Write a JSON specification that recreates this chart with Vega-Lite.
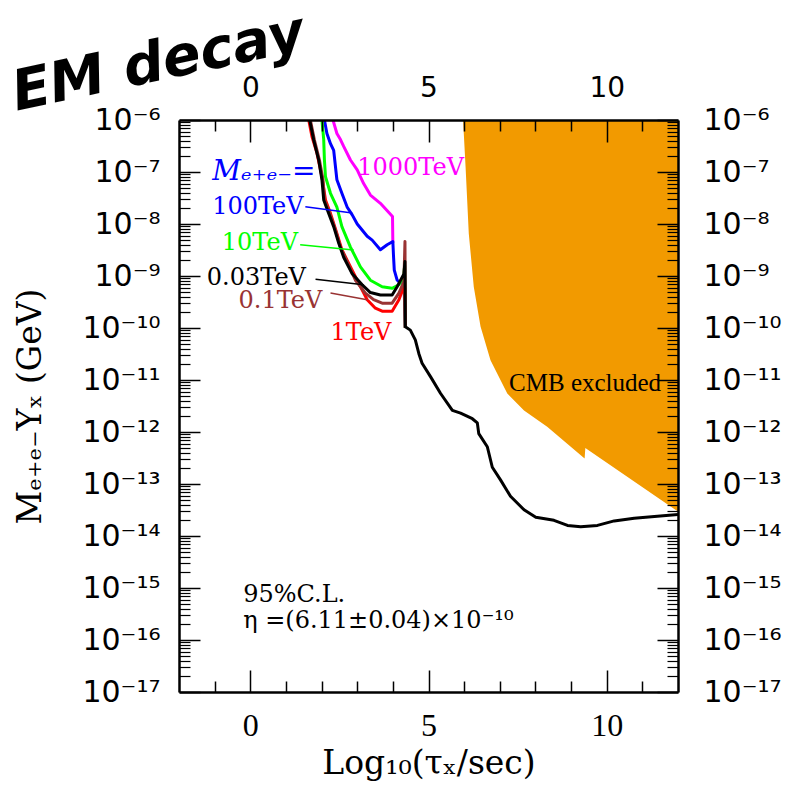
{
  "$schema": "https://vega.github.io/schema/vega-lite/v6.json",
  "autosize": {"type": "none"},
  "width": 499,
  "height": 572,
  "padding": {"left": 179, "top": 120, "right": 108, "bottom": 104},
  "background": "white",
  "title": {"text": "EM decay", "font": "DejaVu Sans", "fontSize": 56, "fontStyle": "italic", "fontWeight": "bold", "angle": -12, "anchor": "start", "frame": "group", "dx": -193, "dy": 82, "offset": 10, "color": "black"},
  "config": {"view": {"stroke": null}},
  "datasets": {
    "curves": [
      {"s": "1000TeV", "x": 2.32, "y": 1e-6}, {"s": "1000TeV", "x": 2.43, "y": 5.5e-7}, {"s": "1000TeV", "x": 2.53, "y": 4.2e-7}, {"s": "1000TeV", "x": 2.62, "y": 3.1e-7}, {"s": "1000TeV", "x": 2.81, "y": 1.7e-7}, {"s": "1000TeV", "x": 3.0, "y": 1.1e-7}, {"s": "1000TeV", "x": 3.18, "y": 6.0e-8}, {"s": "1000TeV", "x": 3.37, "y": 3.6e-8}, {"s": "1000TeV", "x": 3.65, "y": 2.5e-8}, {"s": "1000TeV", "x": 3.99, "y": 1.4e-8}, {"s": "1000TeV", "x": 4.0, "y": 4.3e-9},
      {"s": "100TeV", "x": 2.08, "y": 1e-6}, {"s": "100TeV", "x": 2.15, "y": 5.5e-7}, {"s": "100TeV", "x": 2.25, "y": 3.5e-7}, {"s": "100TeV", "x": 2.34, "y": 2.6e-7}, {"s": "100TeV", "x": 2.39, "y": 1.26e-7}, {"s": "100TeV", "x": 2.43, "y": 7.1e-8}, {"s": "100TeV", "x": 2.57, "y": 3.9e-8}, {"s": "100TeV", "x": 2.72, "y": 2.1e-8}, {"s": "100TeV", "x": 2.86, "y": 1.5e-8}, {"s": "100TeV", "x": 3.0, "y": 1.0e-8}, {"s": "100TeV", "x": 3.28, "y": 5.8e-9}, {"s": "100TeV", "x": 3.42, "y": 4.9e-9}, {"s": "100TeV", "x": 3.65, "y": 3.2e-9}, {"s": "100TeV", "x": 3.84, "y": 4.0e-9}, {"s": "100TeV", "x": 4.0, "y": 4.6e-9}, {"s": "100TeV", "x": 4.02, "y": 2.3e-9}, {"s": "100TeV", "x": 4.04, "y": 1.3e-9}, {"s": "100TeV", "x": 4.12, "y": 8.3e-10}, {"s": "100TeV", "x": 4.21, "y": 7.4e-10}, {"s": "100TeV", "x": 4.31, "y": 8.3e-10}, {"s": "100TeV", "x": 4.35, "y": 1e-10},
      {"s": "10TeV", "x": 2.01, "y": 1e-6}, {"s": "10TeV", "x": 2.06, "y": 4.2e-7}, {"s": "10TeV", "x": 2.08, "y": 1.7e-7}, {"s": "10TeV", "x": 2.11, "y": 8.1e-8}, {"s": "10TeV", "x": 2.25, "y": 3.9e-8}, {"s": "10TeV", "x": 2.43, "y": 2.1e-8}, {"s": "10TeV", "x": 2.57, "y": 8.9e-9}, {"s": "10TeV", "x": 2.81, "y": 3.6e-9}, {"s": "10TeV", "x": 3.09, "y": 1.5e-9}, {"s": "10TeV", "x": 3.37, "y": 8.3e-10}, {"s": "10TeV", "x": 3.7, "y": 6.2e-10}, {"s": "10TeV", "x": 3.98, "y": 5.8e-10}, {"s": "10TeV", "x": 4.17, "y": 6.8e-10}, {"s": "10TeV", "x": 4.31, "y": 9.8e-10}, {"s": "10TeV", "x": 4.33, "y": 1.6e-9}, {"s": "10TeV", "x": 4.35, "y": 1e-10},
      {"s": "1TeV", "x": 1.64, "y": 1e-6}, {"s": "1TeV", "x": 1.73, "y": 4.8e-7}, {"s": "1TeV", "x": 1.87, "y": 2.3e-7}, {"s": "1TeV", "x": 2.01, "y": 8.1e-8}, {"s": "1TeV", "x": 2.11, "y": 2.9e-8}, {"s": "1TeV", "x": 2.25, "y": 1.6e-8}, {"s": "1TeV", "x": 2.43, "y": 6.6e-9}, {"s": "1TeV", "x": 2.57, "y": 3.2e-9}, {"s": "1TeV", "x": 2.72, "y": 2.0e-9}, {"s": "1TeV", "x": 3.0, "y": 8.3e-10}, {"s": "1TeV", "x": 3.28, "y": 3.5e-10}, {"s": "1TeV", "x": 3.51, "y": 2.4e-10}, {"s": "1TeV", "x": 3.7, "y": 2.1e-10}, {"s": "1TeV", "x": 3.98, "y": 2.1e-10}, {"s": "1TeV", "x": 4.17, "y": 3.5e-10}, {"s": "1TeV", "x": 4.31, "y": 6.2e-10}, {"s": "1TeV", "x": 4.33, "y": 8.3e-10}, {"s": "1TeV", "x": 4.35, "y": 1e-10},
      {"s": "0.1TeV", "x": 1.685, "y": 1e-6}, {"s": "0.1TeV", "x": 1.8, "y": 4.1e-7}, {"s": "0.1TeV", "x": 1.94, "y": 1.7e-7}, {"s": "0.1TeV", "x": 2.04, "y": 7.1e-8}, {"s": "0.1TeV", "x": 2.08, "y": 2.9e-8}, {"s": "0.1TeV", "x": 2.23, "y": 1.6e-8}, {"s": "0.1TeV", "x": 2.39, "y": 7.6e-9}, {"s": "0.1TeV", "x": 2.53, "y": 3.6e-9}, {"s": "0.1TeV", "x": 2.67, "y": 2.2e-9}, {"s": "0.1TeV", "x": 2.95, "y": 8.3e-10}, {"s": "0.1TeV", "x": 3.23, "y": 4.7e-10}, {"s": "0.1TeV", "x": 3.46, "y": 3.5e-10}, {"s": "0.1TeV", "x": 3.7, "y": 3.0e-10}, {"s": "0.1TeV", "x": 3.98, "y": 3.0e-10}, {"s": "0.1TeV", "x": 4.17, "y": 4.7e-10}, {"s": "0.1TeV", "x": 4.31, "y": 7.8e-10}, {"s": "0.1TeV", "x": 4.34, "y": 4.6e-9}, {"s": "0.1TeV", "x": 4.35, "y": 1e-10},
      {"s": "0.03TeV", "x": 1.666, "y": 1e-6}, {"s": "0.03TeV", "x": 1.78, "y": 4.1e-7}, {"s": "0.03TeV", "x": 1.92, "y": 1.7e-7}, {"s": "0.03TeV", "x": 2.01, "y": 7.1e-8}, {"s": "0.03TeV", "x": 2.06, "y": 2.9e-8}, {"s": "0.03TeV", "x": 2.2, "y": 1.6e-8}, {"s": "0.03TeV", "x": 2.34, "y": 8.9e-9}, {"s": "0.03TeV", "x": 2.48, "y": 4.3e-9}, {"s": "0.03TeV", "x": 2.62, "y": 2.3e-9}, {"s": "0.03TeV", "x": 2.86, "y": 1.1e-9}, {"s": "0.03TeV", "x": 3.14, "y": 6.8e-10}, {"s": "0.03TeV", "x": 3.37, "y": 4.8e-10}, {"s": "0.03TeV", "x": 3.65, "y": 4.3e-10}, {"s": "0.03TeV", "x": 3.98, "y": 4.3e-10}, {"s": "0.03TeV", "x": 4.12, "y": 6.2e-10}, {"s": "0.03TeV", "x": 4.31, "y": 1.1e-9}, {"s": "0.03TeV", "x": 4.34, "y": 1.9e-9}, {"s": "0.03TeV", "x": 4.35, "y": 1.06e-10}, {"s": "0.03TeV", "x": 4.49, "y": 9.1e-11}, {"s": "0.03TeV", "x": 4.63, "y": 5.9e-11}, {"s": "0.03TeV", "x": 4.73, "y": 3.2e-11}, {"s": "0.03TeV", "x": 4.82, "y": 2.1e-11}, {"s": "0.03TeV", "x": 5.06, "y": 1.15e-11}, {"s": "0.03TeV", "x": 5.34, "y": 5.5e-12}, {"s": "0.03TeV", "x": 5.67, "y": 2.6e-12}, {"s": "0.03TeV", "x": 5.9, "y": 2.3e-12}, {"s": "0.03TeV", "x": 6.23, "y": 1.8e-12}, {"s": "0.03TeV", "x": 6.37, "y": 1.5e-12}, {"s": "0.03TeV", "x": 6.41, "y": 9.3e-13}, {"s": "0.03TeV", "x": 6.65, "y": 5.2e-13}, {"s": "0.03TeV", "x": 6.79, "y": 2.1e-13}, {"s": "0.03TeV", "x": 7.02, "y": 1.2e-13}, {"s": "0.03TeV", "x": 7.3, "y": 5.8e-14}, {"s": "0.03TeV", "x": 7.68, "y": 3.2e-14}, {"s": "0.03TeV", "x": 8.01, "y": 2.3e-14}, {"s": "0.03TeV", "x": 8.52, "y": 2.0e-14}, {"s": "0.03TeV", "x": 8.9, "y": 1.6e-14}, {"s": "0.03TeV", "x": 9.27, "y": 1.5e-14}, {"s": "0.03TeV", "x": 9.74, "y": 1.6e-14}, {"s": "0.03TeV", "x": 10.21, "y": 1.95e-14}, {"s": "0.03TeV", "x": 10.77, "y": 2.2e-14}, {"s": "0.03TeV", "x": 11.42, "y": 2.4e-14}, {"s": "0.03TeV", "x": 12.0, "y": 2.6e-14}
    ],
    "cmb": [
      {"x": 5.97, "y": 1e-6}, {"x": 6.04, "y": 1.26e-7}, {"x": 6.13, "y": 6.6e-9}, {"x": 6.27, "y": 6.2e-10}, {"x": 6.46, "y": 1.07e-10}, {"x": 6.74, "y": 2.4e-11}, {"x": 7.21, "y": 5.5e-12}, {"x": 7.68, "y": 2.6e-12}, {"x": 8.33, "y": 1.26e-12}, {"x": 9.38, "y": 3.1e-13}, {"x": 9.4, "y": 4.9e-13}, {"x": 12.0, "y": 2.95e-14}
    ],
    "leaders": [
      {"s": "100TeV", "x": 1.545, "y": 2.14e-8}, {"s": "100TeV", "x": 2.86, "y": 1.62e-8},
      {"s": "10TeV", "x": 1.4, "y": 3.98e-9}, {"s": "10TeV", "x": 2.9, "y": 3.16e-9},
      {"s": "0.03TeV", "x": 1.83, "y": 8.7e-10}, {"s": "0.03TeV", "x": 3.18, "y": 6.8e-10},
      {"s": "0.1TeV", "x": 2.25, "y": 4.7e-10}, {"s": "0.1TeV", "x": 3.28, "y": 3.5e-10}
    ],
    "labels": [
      {"s": "1000TeV", "t": "1000TeV", "x": 3.0, "y": 1.2e-7},
      {"s": "100TeV", "t": "100TeV", "x": -1.07, "y": 2.1e-8},
      {"s": "10TeV", "t": "10TeV", "x": -0.8, "y": 4.4e-9},
      {"s": "0.03TeV", "t": "0.03TeV", "x": -1.22, "y": 9.3e-10},
      {"s": "0.1TeV", "t": "0.1TeV", "x": -0.33, "y": 3.3e-10},
      {"s": "1TeV", "t": "1TeV", "x": 2.25, "y": 7.9e-11}
    ],
    "mass": [
      {"s": "100TeV", "t": "Mₑ₊ₑ₋=", "x": -1.07, "y": 1.0e-7}
    ],
    "notes": [
      {"t": "95%C.L.", "x": -0.2, "y": 7.2e-16},
      {"t": "η =(6.11±0.04)×10⁻¹⁰", "x": -0.2, "y": 2.3e-16}
    ],
    "cmbtext": [
      {"t": "CMB excluded", "x": 7.26, "y": 8.7e-12}
    ]
  },
  "resolve": {"axis": {"x": "independent", "y": "independent"}},
  "layer": [
    {
      "data": {"name": "cmb"},
      "mark": {"type": "area", "color": "#f29a00", "clip": true},
      "encoding": {
        "x": {"field": "x", "type": "quantitative",
          "scale": {"domain": [-2, 12], "nice": false, "zero": false},
          "axis": {"orient": "bottom", "values": [0, 5, 10], "tickSize": -22, "tickWidth": 1.5, "tickColor": "black",
            "labelPadding": 40, "labelFont": "Liberation Serif", "labelFontSize": 32, "labelColor": "black", "labelFlush": false, "labelOverlap": false,
            "domain": true, "domainColor": "black", "domainWidth": 2.5, "grid": false, "zindex": 1,
            "title": "Log₁₀(τₓ/sec)", "titleFont": "DejaVu Serif", "titleFontSize": 33, "titleFontWeight": "normal", "titleColor": "black", "titlePadding": 6}},
        "y": {"field": "y", "type": "quantitative",
          "scale": {"type": "log", "domain": [1e-17, 1e-6], "nice": false},
          "axis": {"orient": "left", "values": [1e-6, 1e-7, 1e-8, 1e-9, 1e-10, 1e-11, 1e-12, 1e-13, 1e-14, 1e-15, 1e-16, 1e-17], "tickSize": -21, "tickWidth": 1.5, "tickColor": "black",
            "labelPadding": 40, "labelFont": "DejaVu Sans", "labelFontSize": 30, "labelColor": "black", "labelFlush": false, "labelOverlap": false,
            "labelExpr": "'10⁻' + (round(-log(datum.value)/LN10) >= 10 ? '¹' : '') + ['⁰','¹','²','³','⁴','⁵','⁶','⁷','⁸','⁹'][round(-log(datum.value)/LN10) % 10]",
            "domain": true, "domainColor": "black", "domainWidth": 2.5, "grid": false, "zindex": 1,
            "title": "Mₑ₊ₑ₋Yₓ  (GeV)", "titleFont": "DejaVu Serif", "titleFontSize": 33, "titleFontWeight": "normal", "titleColor": "black", "titlePadding": 34}},
        "y2": {"datum": 1e-6}
      }
    },
    {
      "data": {"name": "curves"},
      "mark": {"type": "line", "strokeWidth": 3, "clip": true, "strokeJoin": "round"},
      "encoding": {
        "x": {"field": "x", "type": "quantitative",
          "axis": {"orient": "top", "values": [0, 5, 10], "tickSize": -22, "tickWidth": 1.5, "tickColor": "black",
            "labelPadding": 40, "labelFont": "DejaVu Sans", "labelFontSize": 28, "labelColor": "black", "labelFlush": false, "labelOverlap": false,
            "domain": true, "domainColor": "black", "domainWidth": 2.5, "grid": false, "zindex": 1, "title": null}},
        "y": {"field": "y", "type": "quantitative",
          "axis": {"orient": "right", "values": [1e-6, 1e-7, 1e-8, 1e-9, 1e-10, 1e-11, 1e-12, 1e-13, 1e-14, 1e-15, 1e-16, 1e-17], "tickSize": -21, "tickWidth": 1.5, "tickColor": "black",
            "labelPadding": 46, "labelFont": "DejaVu Sans", "labelFontSize": 30, "labelColor": "black", "labelFlush": false, "labelOverlap": false,
            "labelExpr": "'10⁻' + (round(-log(datum.value)/LN10) >= 10 ? '¹' : '') + ['⁰','¹','²','³','⁴','⁵','⁶','⁷','⁸','⁹'][round(-log(datum.value)/LN10) % 10]",
            "domain": true, "domainColor": "black", "domainWidth": 2.5, "grid": false, "zindex": 1, "title": null}},
        "color": {"field": "s", "type": "nominal", "legend": null,
          "scale": {"domain": ["1000TeV", "100TeV", "10TeV", "1TeV", "0.1TeV", "0.03TeV"], "range": ["#ff00ff", "#0000ff", "#00ff00", "#ff0000", "#993333", "#000000"]}}
      }
    },
    {
      "data": {"name": "leaders"},
      "mark": {"type": "line", "strokeWidth": 1.5},
      "encoding": {
        "x": {"field": "x", "type": "quantitative",
          "axis": {"orient": "bottom", "values": [-1, 1, 2, 3, 4, 6, 7, 8, 9, 11], "tickSize": -11, "tickWidth": 1.5, "tickColor": "black", "labels": false, "domain": false, "grid": false, "zindex": 1, "title": null}},
        "y": {"field": "y", "type": "quantitative",
          "axis": {"orient": "left", "values": [2e-17, 3e-17, 4e-17, 5e-17, 6e-17, 7e-17, 8e-17, 9e-17, 2e-16, 3e-16, 4e-16, 5e-16, 6e-16, 7e-16, 8e-16, 9e-16, 2e-15, 3e-15, 4e-15, 5e-15, 6e-15, 7e-15, 8e-15, 9e-15, 2e-14, 3e-14, 4e-14, 5e-14, 6e-14, 7e-14, 8e-14, 9e-14, 2e-13, 3e-13, 4e-13, 5e-13, 6e-13, 7e-13, 8e-13, 9e-13, 2e-12, 3e-12, 4e-12, 5e-12, 6e-12, 7e-12, 8e-12, 9e-12, 2e-11, 3e-11, 4e-11, 5e-11, 6e-11, 7e-11, 8e-11, 9e-11, 2e-10, 3e-10, 4e-10, 5e-10, 6e-10, 7e-10, 8e-10, 9e-10, 2e-9, 3e-9, 4e-9, 5e-9, 6e-9, 7e-9, 8e-9, 9e-9, 2e-8, 3e-8, 4e-8, 5e-8, 6e-8, 7e-8, 8e-8, 9e-8, 2e-7, 3e-7, 4e-7, 5e-7, 6e-7, 7e-7, 8e-7, 9e-7], "tickSize": -11, "tickWidth": 1.2, "tickColor": "black", "labels": false, "domain": false, "grid": false, "zindex": 1, "title": null}},
        "color": {"field": "s", "type": "nominal", "legend": null}
      }
    },
    {
      "data": {"name": "labels"},
      "mark": {"type": "text", "align": "left", "baseline": "middle", "font": "DejaVu Serif", "fontSize": 24},
      "encoding": {
        "x": {"field": "x", "type": "quantitative",
          "axis": {"orient": "top", "values": [-1, 1, 2, 3, 4, 6, 7, 8, 9, 11], "tickSize": -11, "tickWidth": 1.5, "tickColor": "black", "labels": false, "domain": false, "grid": false, "zindex": 1, "title": null}},
        "y": {"field": "y", "type": "quantitative",
          "axis": {"orient": "right", "values": [2e-17, 3e-17, 4e-17, 5e-17, 6e-17, 7e-17, 8e-17, 9e-17, 2e-16, 3e-16, 4e-16, 5e-16, 6e-16, 7e-16, 8e-16, 9e-16, 2e-15, 3e-15, 4e-15, 5e-15, 6e-15, 7e-15, 8e-15, 9e-15, 2e-14, 3e-14, 4e-14, 5e-14, 6e-14, 7e-14, 8e-14, 9e-14, 2e-13, 3e-13, 4e-13, 5e-13, 6e-13, 7e-13, 8e-13, 9e-13, 2e-12, 3e-12, 4e-12, 5e-12, 6e-12, 7e-12, 8e-12, 9e-12, 2e-11, 3e-11, 4e-11, 5e-11, 6e-11, 7e-11, 8e-11, 9e-11, 2e-10, 3e-10, 4e-10, 5e-10, 6e-10, 7e-10, 8e-10, 9e-10, 2e-9, 3e-9, 4e-9, 5e-9, 6e-9, 7e-9, 8e-9, 9e-9, 2e-8, 3e-8, 4e-8, 5e-8, 6e-8, 7e-8, 8e-8, 9e-8, 2e-7, 3e-7, 4e-7, 5e-7, 6e-7, 7e-7, 8e-7, 9e-7], "tickSize": -11, "tickWidth": 1.2, "tickColor": "black", "labels": false, "domain": false, "grid": false, "zindex": 1, "title": null}},
        "text": {"field": "t"},
        "color": {"field": "s", "type": "nominal", "legend": null}
      }
    },
    {
      "data": {"name": "mass"},
      "mark": {"type": "text", "align": "left", "baseline": "middle", "font": "DejaVu Serif", "fontSize": 28, "fontStyle": "italic"},
      "encoding": {
        "x": {"field": "x", "type": "quantitative", "axis": null},
        "y": {"field": "y", "type": "quantitative", "axis": null},
        "text": {"field": "t"},
        "color": {"field": "s", "type": "nominal", "legend": null}
      }
    },
    {
      "data": {"name": "notes"},
      "mark": {"type": "text", "align": "left", "baseline": "middle", "font": "DejaVu Serif", "fontSize": 24, "color": "black"},
      "encoding": {
        "x": {"field": "x", "type": "quantitative", "axis": null},
        "y": {"field": "y", "type": "quantitative", "axis": null},
        "text": {"field": "t"}
      }
    },
    {
      "data": {"name": "cmbtext"},
      "mark": {"type": "text", "align": "left", "baseline": "middle", "font": "Liberation Serif", "fontSize": 25, "color": "black"},
      "encoding": {
        "x": {"field": "x", "type": "quantitative", "axis": null},
        "y": {"field": "y", "type": "quantitative", "axis": null},
        "text": {"field": "t"}
      }
    }
  ]
}
